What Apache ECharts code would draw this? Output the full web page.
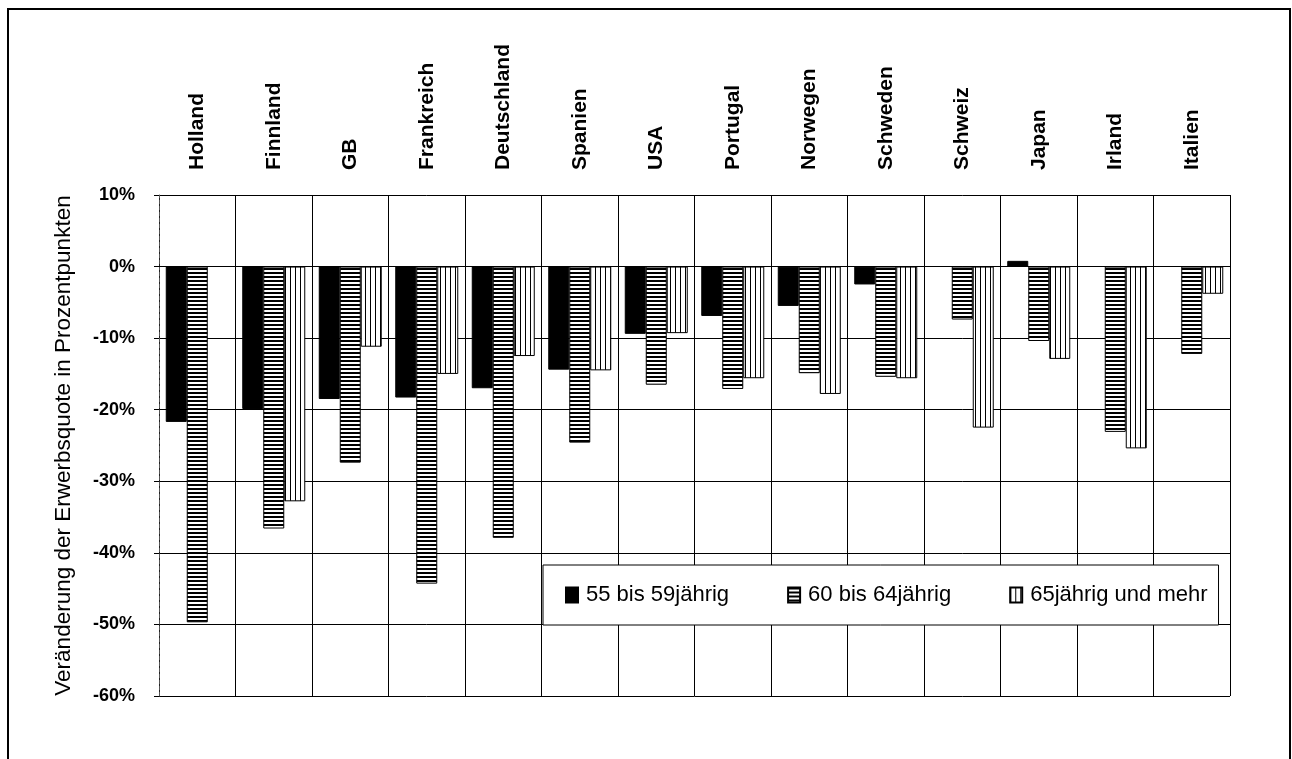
<!DOCTYPE html>
<html>
<head>
<meta charset="utf-8">
<script src="https://cdn.jsdelivr.net/npm/echarts@6/dist/echarts.min.js"></script>
<style>
html,body{margin:0;padding:0;background:#fff;}
#chart{width:1292px;height:759px;}
</style>
</head>
<body>
<div id="chart"></div>
<script>
const categories = ['Holland','Finnland','GB','Frankreich','Deutschland','Spanien','USA','Portugal','Norwegen','Schweden','Schweiz','Japan','Irland','Italien'];
const seriesNames = ['55 bis 59jährig','60 bis 64jährig','65jährig und mehr'];
const age55to59 = [-21.7, -19.9, -18.5, -18.3, -17.0, -14.4, -9.4, -6.9, -5.5, -2.5, null, 0.8, null, null];
const age60to64 = [-49.7, -36.6, -27.4, -44.3, -37.9, -24.6, -16.5, -17.1, -14.9, -15.4, -7.4, -10.4, -23.1, -12.2];
const age65plus = [null, -32.8, -11.2, -15.0, -12.5, -14.5, -9.3, -15.6, -17.8, -15.6, -22.5, -12.9, -25.4, -3.8];
const yTicks = {min: -60, max: 10, interval: 10};

function hPattern(){
  const c = document.createElement('canvas'); c.width = 4; c.height = 4;
  const g = c.getContext('2d');
  g.fillStyle = '#fff'; g.fillRect(0,0,4,4);
  g.fillStyle = '#000'; g.fillRect(0,0,4,2);
  return {image: c, repeat: 'repeat'};
}
function vPattern(){
  const c = document.createElement('canvas'); c.width = 5; c.height = 5;
  const g = c.getContext('2d');
  g.fillStyle = '#fff'; g.fillRect(0,0,5,5);
  g.fillStyle = '#000'; g.fillRect(0,0,1,5);
  return {image: c, repeat: 'repeat'};
}

const FONT = "'Liberation Sans', Arial, sans-serif";
const chart = echarts.init(document.getElementById('chart'), null, {renderer: 'canvas'});
const barCommon = {type: 'bar', barWidth: 21, barGap: '0%'};
chart.setOption({
  animation: false,
  backgroundColor: '#fff',
  textStyle: {fontFamily: FONT},
  grid: {left: 159, right: 62, top: 195, bottom: 63, containLabel: false},
  graphic: [{type: 'rect', shape: {x: 8, y: 9, width: 1282, height: 800}, style: {fill: 'none', stroke: '#000', lineWidth: 2}, z: 100}],
  legend: {
    left: 543, top: 565,
    itemWidth: 12, itemHeight: 15, itemGap: 58,
    padding: [19, 11, 19, 22],
    backgroundColor: '#fff', borderColor: '#000', borderWidth: 1,
    icon: 'rect',
    textStyle: {fontFamily: FONT, fontSize: 22, color: '#000', padding: [0, 0, 0, 3]},
    data: seriesNames
  },
  xAxis: {
    type: 'category', position: 'top', data: categories,
    axisLine: {show: true, lineStyle: {color: '#000', width: 1}},
    axisTick: {show: false},
    splitLine: {show: true, lineStyle: {color: '#000', width: 1}},
    axisLabel: {rotate: 90, margin: 25, fontFamily: FONT, fontSize: 21, fontWeight: 'bold', color: '#000', interval: 0}
  },
  yAxis: {
    type: 'value', min: yTicks.min, max: yTicks.max, interval: yTicks.interval,
    name: 'Veränderung der Erwerbsquote in Prozentpunkten',
    nameLocation: 'middle', nameGap: 84,
    nameTextStyle: {fontFamily: FONT, fontSize: 22.5, color: '#000'},
    axisLine: {show: true, lineStyle: {color: '#555', width: 1, type: 'dashed'}},
    axisTick: {show: true, length: 5, lineStyle: {color: '#000'}},
    splitLine: {show: true, lineStyle: {color: '#000', width: 1}},
    axisLabel: {margin: 24, formatter: '{value}%', fontFamily: FONT, fontSize: 18, fontWeight: 'bold', color: '#000'}
  },
  series: [
    Object.assign({}, barCommon, {name: seriesNames[0], data: age55to59, itemStyle: {color: '#000', borderColor: '#000', borderWidth: 1}}),
    Object.assign({}, barCommon, {name: seriesNames[1], data: age60to64, itemStyle: {color: hPattern(), borderColor: '#000', borderWidth: 1}}),
    Object.assign({}, barCommon, {name: seriesNames[2], data: age65plus, itemStyle: {color: vPattern(), borderColor: '#000', borderWidth: 1}})
  ]
});
</script>
</body>
</html>
